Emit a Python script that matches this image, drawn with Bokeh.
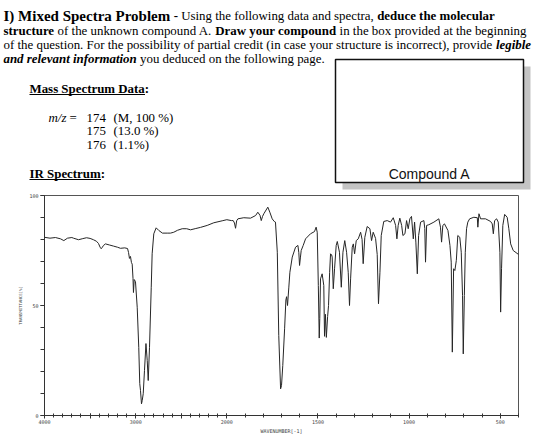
import numpy as np
from bokeh.plotting import figure
from bokeh.models import Range1d, FixedTicker
from bokeh.core.properties import value
from bokeh.embed import file_html
from bokeh.resources import INLINE

# ---------------------------------------------------------------- data
# IR spectrum: wavenumber (cm-1) and transmittance (%)
wavenumber = [
    4000, 3940, 3880, 3824, 3788, 3748, 3700, 3682, 3627, 3580, 3539, 3500,
    3463, 3430, 3408, 3390, 3378, 3365, 3353, 3331, 3287, 3243, 3200, 3166,
    3120, 3089, 3078, 3068, 3057, 3046, 3038, 3029, 3024, 3016, 3002, 2983,
    2966, 2955, 2947, 2936, 2928, 2917, 2903, 2887, 2873, 2862, 2848, 2829,
    2819, 2801, 2775, 2746, 2706, 2654, 2618, 2582, 2540, 2489, 2440, 2398,
    2340, 2289, 2215, 2143, 2051, 2000,
    1975, 1965, 1958, 1952, 1946, 1939, 1907, 1870, 1842, 1830, 1818, 1811,
    1804, 1797, 1775, 1764, 1751, 1740, 1733, 1723, 1715, 1705, 1700, 1693,
    1683, 1676, 1672, 1667, 1660, 1654, 1641, 1623, 1610, 1605, 1601, 1596,
    1592, 1581, 1568, 1541, 1519, 1510, 1504, 1498, 1493, 1490, 1486, 1477,
    1468, 1464, 1459, 1454, 1447, 1442, 1436, 1431, 1425, 1422, 1416, 1409,
    1400, 1394, 1382, 1372, 1363, 1353, 1343, 1334, 1327, 1321, 1312, 1306,
    1299, 1290, 1279, 1266, 1258, 1252, 1243, 1230, 1215, 1206, 1197, 1184,
    1175, 1168, 1160, 1153, 1139, 1120, 1102, 1087, 1074, 1067, 1060, 1051,
    1041, 1034, 1023, 1014, 1005, 996, 987, 977, 970, 963, 955, 948,
    937, 919, 914, 910, 904, 892, 864, 837, 828, 822, 815, 806,
    787, 776, 769, 763, 756, 749, 741, 733, 722, 714, 707, 703,
    697, 692, 685, 678, 668, 645, 626, 623, 617, 608, 581, 553,
    544, 538, 531, 520, 511, 502, 498, 493, 486, 476, 462, 453,
    443, 429, 400,
]
transmittance = [
    81.0, 80.6, 80.9, 80.3, 79.5, 80.6, 80.9, 80.6, 79.9, 80.4, 80.8, 80.5,
    79.9, 79.2, 78.2, 76.5, 75.8, 76.5, 77.3, 78.0, 77.5, 77.0, 76.5, 76.0,
    76.2, 75.9, 74.1, 71.4, 72.3, 69.5, 68.8, 62.3, 55.9, 61.8, 60.9, 49.2,
    31.0, 14.5, 11.4, 5.3, 6.8, 9.9, 20.5, 32.7, 25.0, 15.9, 31.0, 58.3,
    73.5, 82.6, 85.3, 84.1, 82.9, 82.9, 82.9, 83.3, 84.2, 84.9, 84.9, 84.4,
    85.0, 85.5, 86.4, 87.6, 88.5, 89.0,
    88.6, 88.6, 87.5, 85.1, 88.5, 89.4, 89.9, 89.7, 90.9, 92.4, 91.0, 88.6,
    90.5, 91.7, 94.7, 92.4, 89.4, 88.2, 87.9, 74.2, 36.4, 12.1, 13.6, 22.7,
    39.4, 52.5, 54.0, 50.0, 58.0, 65.1, 72.0, 76.5, 77.3, 74.0, 68.2, 72.0,
    75.0, 77.3, 80.3, 82.6, 83.6, 85.6, 83.3, 59.1, 35.2, 44.1, 62.1, 64.4,
    59.1, 36.0, 46.0, 35.5, 45.0, 50.0, 65.1, 73.5, 73.0, 72.0, 57.6, 66.7,
    77.3, 79.1, 74.2, 58.3, 74.2, 79.5, 74.2, 65.1, 50.0, 62.1, 76.5, 78.0,
    73.5, 79.5, 80.3, 83.3, 80.0, 69.0, 81.0, 85.9, 84.9, 79.5, 83.3, 80.5,
    73.2, 50.8, 65.1, 81.8, 88.2, 88.6, 87.9, 89.9, 86.4, 80.3, 86.4, 89.7,
    86.4, 81.8, 82.6, 88.6, 84.9, 89.4, 90.5, 80.3, 87.9, 78.8, 64.4, 81.8,
    87.9, 88.6, 85.0, 69.7, 86.4, 86.7, 87.9, 89.4, 85.6, 78.8, 86.4, 87.1,
    84.1, 77.3, 69.7, 28.8, 66.7, 65.9, 70.5, 81.8, 81.0, 74.2, 54.5, 28.0,
    54.5, 74.2, 84.9, 87.9, 89.4, 90.1, 89.9, 85.6, 91.7, 89.4, 89.4, 88.2,
    87.1, 82.6, 88.6, 89.4, 87.9, 74.2, 47.0, 66.7, 86.4, 91.4, 90.1, 84.9,
    78.0, 75.0, 73.2,
]

# mass spectrum peaks
ms_mz = [174, 175, 176]
ms_note = ["(M, 100 %)", "(13.0 %)", "(1.1%)"]

# axis labels of the IR chart
x_label_wn = [4000, 3000, 2000, 1500, 1000, 500]
x_blank_wn = [3500, 2500]
y_label_t = [0, 50, 100]

SERIF = value("Liberation Serif")
SANS = value("Liberation Sans")


def ir_pos(wn):
    """Chart position: the 4000-2000 cm-1 part is drawn at half scale."""
    wn = np.asarray(wn, dtype=float)
    return np.where(wn >= 2000, 4000 - wn, 2000 + 2 * (2000 - wn))


# ---------------------------------------------------------------- header
head = figure(width=560, height=192, x_range=Range1d(0, 560), y_range=Range1d(192, 0),
              output_backend="svg", toolbar_location=None, min_border=0,
              x_axis_location=None, y_axis_location=None)
head.xgrid.visible = False
head.ygrid.visible = False
head.outline_line_color = None


def run(p, text, x, y, size=12.9, style="normal", font=SERIF, align="left", color="#000"):
    p.text(x=[x], y=[y], text=[text], text_font=font, text_font_size=f"{size}px",
           text_font_style=style, text_baseline="middle", text_align=align,
           text_color=color)


# question paragraph
run(head, "I) Mixed Spectra Problem", 3, 15.5, size=15, style="bold")
run(head, "-", 173.2, 15.5, style="bold")
run(head, "Using the following data and spectra,", 180.7, 15.5)
run(head, "deduce the molecular", 376.7, 15.5, style="bold")
run(head, "structure", 3, 30, style="bold")
run(head, "of the unknown compound A.", 57.1, 30)
run(head, "Draw your compound", 214.8, 30, style="bold")
run(head, "in the box provided at the beginning", 339.1, 30)
run(head, "of the question. For the possibility of partial credit (in case your "
          "structure is incorrect), provide", 3, 44.3)
run(head, "legible", 495.4, 44.3, style="bold italic")
run(head, "and relevant information", 3, 58.6, style="bold italic")
run(head, "you deduced on the following page.", 139.5, 58.6)

# answer box with drop shadow
head.quad(left=[342], right=[530], top=[66], bottom=[189], fill_color="#c4c4c4", line_color=None)
head.quad(left=[335], right=[523], top=[59], bottom=[182], fill_color="white",
          line_color="#111", line_width=1.5)
run(head, "Compound A", 429, 173, size=14, font=SANS, align="center", color="#111")

# mass spectrum block
run(head, "Mass Spectrum Data:", 29, 88, style="bold")
head.segment(x0=[29], x1=[144.5], y0=[94], y1=[94], line_color="#000", line_width=1)
run(head, "m/z", 48, 117, style="italic")
run(head, "=", 69, 117)
for i, (mz, note) in enumerate(zip(ms_mz, ms_note)):
    row_y = 117 + i * 13.5
    run(head, str(mz), 86, row_y)
    run(head, note, 113, row_y)

run(head, "IR Spectrum:", 29, 173, style="bold")
head.segment(x0=[29], x1=[100.5], y0=[179], y1=[179], line_color="#000", line_width=1)

# ---------------------------------------------------------------- IR chart
ir = figure(width=560, height=255, x_range=Range1d(0, 5200), y_range=Range1d(0, 100),
            output_backend="svg", toolbar_location=None,
            min_border_left=44, min_border_right=42, min_border_top=3, min_border_bottom=32)
ir.xgrid.visible = False
ir.ygrid.visible = False
ir.outline_line_color = "#555"
ir.outline_line_width = 1

ir.line(x=ir_pos(wavenumber), y=transmittance, line_color="#262626", line_width=1)

xax = ir.xaxis[0]
major_wn = x_label_wn + x_blank_wn
xax.ticker = FixedTicker(ticks=[float(v) for v in ir_pos(major_wn)],
                         minor_ticks=[float(v) for v in ir_pos(np.arange(4000, 399, -100))])
overrides = {float(ir_pos(w)): str(w) for w in x_label_wn}
overrides.update({float(ir_pos(w)): "" for w in x_blank_wn})
xax.major_label_overrides = overrides
xax.axis_label = "WAVENUMBER[-1]"
xax.major_tick_in = 2
xax.major_tick_out = 3
xax.minor_tick_in = 2
xax.minor_tick_out = 2
xax.major_label_standoff = 1
xax.axis_label_standoff = 1

yax = ir.yaxis[0]
yax.ticker = FixedTicker(ticks=y_label_t, minor_ticks=list(range(0, 101, 10)))
yax.axis_label = "TRANSMITTANCE[%]"
yax.major_tick_in = 0
yax.major_tick_out = 4
yax.minor_tick_in = 0
yax.minor_tick_out = 4
yax.major_label_standoff = 2
yax.axis_label_standoff = 3
yax.major_label_orientation = "horizontal"

for ax, lab_size, title_size in ((xax, "5px", "5px"), (yax, "5px", "4px")):
    ax.axis_line_color = "#333"
    ax.major_tick_line_color = "#333"
    ax.minor_tick_line_color = "#333"
    ax.major_label_text_font = "DejaVu Sans Mono"
    ax.major_label_text_font_size = lab_size
    ax.major_label_text_color = "#444"
    ax.axis_label_text_font = "DejaVu Sans Mono"
    ax.axis_label_text_font_size = title_size
    ax.axis_label_text_font_style = "normal"
    ax.axis_label_text_color = "#444"

# two independent roots, stacked on the page
open("out.html", "w").write(file_html([head, ir], INLINE))
